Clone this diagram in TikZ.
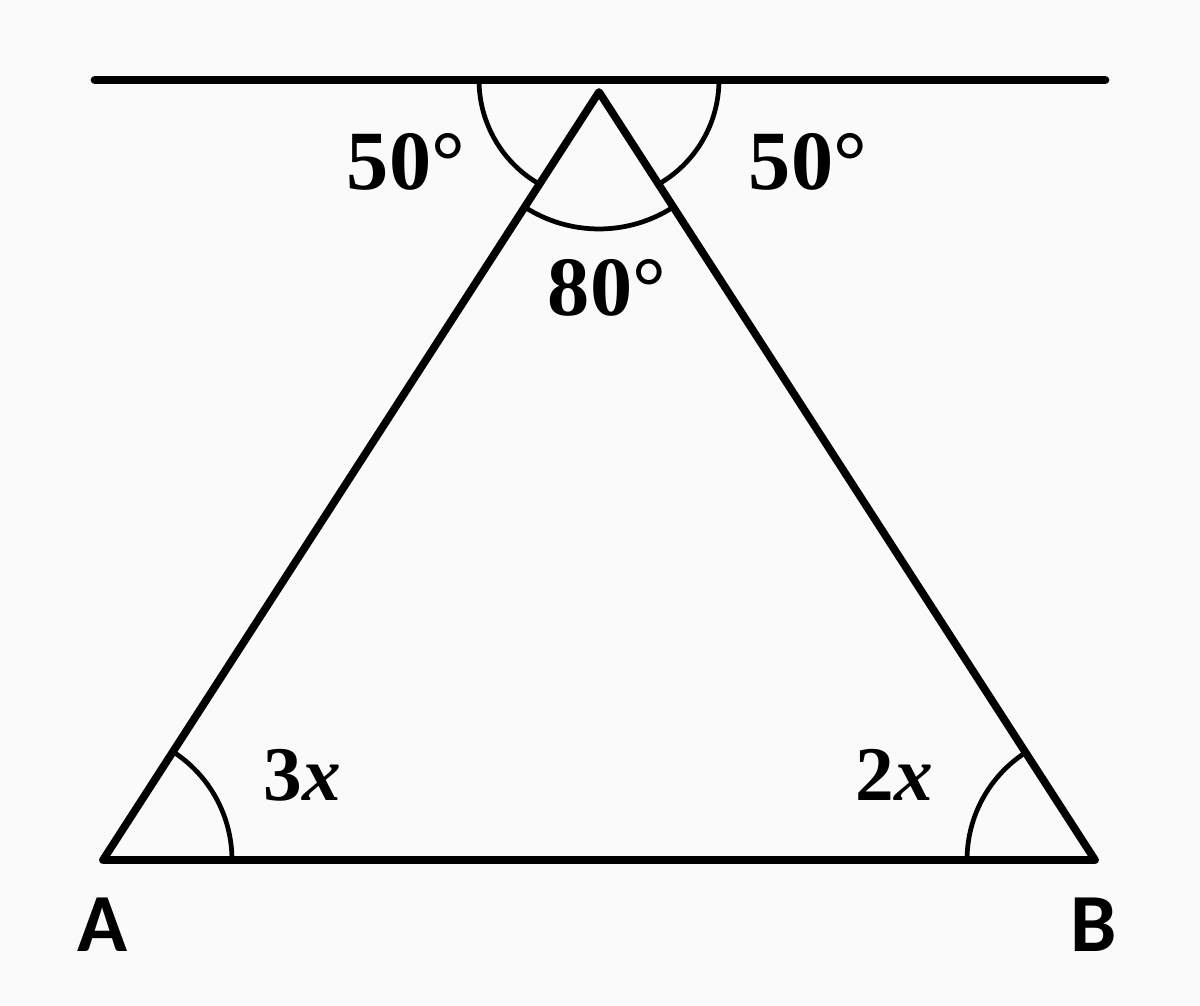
\documentclass[tikz,border=0pt]{standalone}
\usepackage{fontspec}
\setmainfont{Liberation Serif}
\newfontfamily\labfont{Carlito}
\usetikzlibrary{calc}
\begin{document}
\begin{tikzpicture}[x=0.02cm,y=-0.02cm,
  topline/.style={line width=5pt,line cap=round},
  edge/.style={line width=4.4pt,line cap=round,line join=round},
  anglearc/.style={line width=2.7pt},
  deg/.style={font=\fontsize{48}{48}\selectfont\bfseries,inner sep=0pt},
  var/.style={font=\fontsize{44}{44}\selectfont\bfseries,inner sep=0pt},
  vert/.style={font=\fontsize{47}{47}\selectfont\labfont\bfseries,inner sep=0pt}]
\fill[white!98!black] (0,0) rectangle (1200,1006);
\useasboundingbox (0,0) rectangle (1200,1006);
\coordinate (L1) at (95,80);
\coordinate (L2) at (1105,80);
\coordinate (T) at (599,80);
\coordinate (C) at (599,92);
\coordinate (A) at (103,860);
\coordinate (B) at (1095,860);
\draw[topline] (L1) -- (L2);
\draw[edge] (A) -- (B) -- (C) -- cycle;
% angle arcs
\draw[anglearc] ($(T)+(180:2.4cm)$) arc[start angle=180,end angle=240.5,radius=2.4cm];
\draw[anglearc] ($(T)+(0:2.4cm)$) arc[start angle=0,end angle=-60.5,radius=2.4cm];
\draw[anglearc] ($(C)+(237.2:2.74cm)$) arc[start angle=237.2,end angle=302.8,radius=2.74cm];
\draw[anglearc] ($(A)+(0:2.58cm)$) arc[start angle=0,end angle=57.1,radius=2.58cm];
\draw[anglearc] ($(B)+(180:2.56cm)$) arc[start angle=180,end angle=122.9,radius=2.56cm];
% labels
\node[deg] (t1) at (406,162) {50°};
\node[deg] (t2) at (808,162) {50°};
\node[deg] (t3) at (607,288) {80°};
\node[var] (t4) at (302,775) {3\textit{x}};
\node[var] (t5) at (894,775) {2\textit{x}};
\node[vert] (nA) at (103,925) {A};
\node[vert] (nB) at (1094,925) {B};
\end{tikzpicture}
\end{document}
